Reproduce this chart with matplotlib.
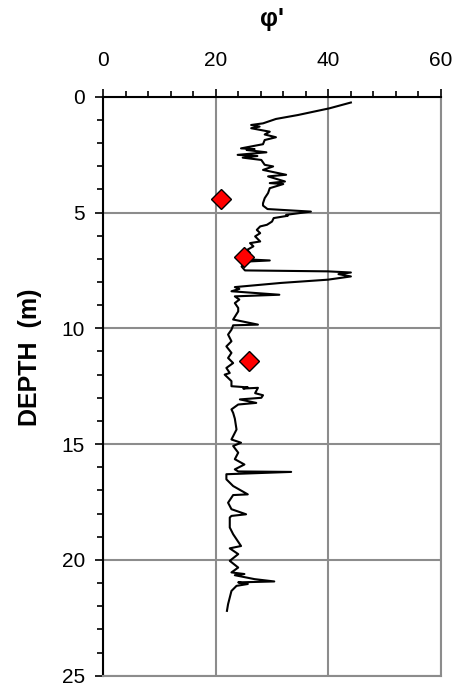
import matplotlib
matplotlib.use("Agg")
import matplotlib.pyplot as plt
from matplotlib.ticker import MultipleLocator

plt.rcParams['font.family'] = ['Liberation Sans', 'DejaVu Sans']

# CPT-derived friction angle profile (phi', degrees) vs depth (m)
phi_curve = [44.0, 40.2, 34.6, 30.7, 28.4, 26.3, 27.8, 26.3, 29.6, 28.7, 30.7, 28.7, 28.4,
             24.5, 26.9, 25.5, 29.0, 23.9, 27.4, 24.8, 28.1, 28.7, 30.2, 28.4, 32.5, 29.3,
             32.3, 29.6, 32.0, 29.6, 29.3, 28.7, 28.4, 28.4, 29.2, 36.9, 32.5, 32.8, 30.3,
             30.0, 29.1, 27.9, 27.3, 27.9, 27.0, 27.9, 26.1, 26.7, 25.6, 26.1, 25.3, 29.6,
             25.3, 24.6, 25.2, 39.9, 44.0, 41.8, 44.0, 39.9, 31.6, 23.4, 24.2, 22.8, 31.3,
             23.4, 24.2, 23.4, 24.0, 24.0, 23.1, 27.5, 23.1, 22.8, 22.2, 22.8, 21.9, 22.8,
             22.2, 23.1, 21.9, 22.5, 21.6, 22.8, 22.8, 25.7, 24.9, 27.5, 27.0, 28.4, 28.1,
             24.3, 27.2, 24.0, 22.8, 23.1, 23.4, 23.7, 22.8, 24.5, 23.1, 24.0, 23.4, 25.1,
             23.4, 24.0, 33.4, 21.9, 21.9, 23.1, 25.7, 23.1, 22.2, 22.8, 25.4, 22.8, 22.5,
             22.5, 23.1, 24.5, 22.5, 24.0, 22.5, 24.0, 22.8, 25.1, 23.4, 26.9, 30.4, 24.0,
             25.7, 23.7, 22.8, 22.5, 22.2, 22.0]
depth_curve = [0.25, 0.50, 0.79, 0.96, 1.15, 1.22, 1.29, 1.36, 1.51, 1.63, 1.75, 1.87, 2.05,
               2.23, 2.26, 2.30, 2.40, 2.51, 2.56, 2.63, 2.73, 2.94, 3.01, 3.16, 3.37, 3.44,
               3.66, 3.73, 3.77, 3.95, 4.16, 4.38, 4.60, 4.70, 4.85, 4.96, 5.10, 5.14, 5.24,
               5.39, 5.53, 5.60, 5.75, 5.89, 6.03, 6.25, 6.32, 6.46, 6.61, 6.75, 7.02, 7.07,
               7.12, 7.33, 7.50, 7.54, 7.59, 7.66, 7.76, 7.90, 8.04, 8.22, 8.30, 8.40, 8.55,
               8.62, 8.76, 8.91, 9.12, 9.27, 9.62, 9.84, 9.87, 10.06, 10.27, 10.56, 10.78, 11.06,
               11.28, 11.50, 11.71, 11.93, 12.00, 12.28, 12.50, 12.55, 12.60, 12.57, 12.80, 12.89, 13.00,
               13.07, 13.22, 13.29, 13.50, 13.65, 13.90, 14.37, 14.80, 14.94, 15.08, 15.37, 15.65, 15.88,
               16.09, 16.18, 16.20, 16.30, 16.52, 16.81, 17.17, 17.20, 17.53, 17.81, 18.03, 18.10, 18.17,
               18.60, 18.89, 19.40, 19.50, 19.75, 20.04, 20.33, 20.54, 20.61, 20.66, 20.83, 20.93, 20.97,
               21.04, 21.12, 21.34, 21.62, 21.91, 22.20]

# lab test points
phi_lab = [21.0, 25.1, 26.0]
depth_lab = [4.4, 6.9, 11.4]

x_ticks = [0, 20, 40, 60]
y_ticks = [0, 5, 10, 15, 20, 25]

fig = plt.figure(figsize=(4.54, 6.86), dpi=100)
ax = fig.add_axes([0.2269, 0.0150, 0.7445, 0.8440])

grid_c = '#8c8c8c'
ax.plot(phi_curve, depth_curve, color='black', lw=1.5, zorder=3)
ax.plot(phi_lab, depth_lab, linestyle='none', marker='D', markersize=10,
        markerfacecolor='#ff0000', markeredgecolor='black', markeredgewidth=1.0, zorder=4)

ax.set_xlim(0, 60)
ax.set_ylim(25, 0)
ax.xaxis.tick_top()
ax.xaxis.set_label_position('top')
ax.set_xticks(x_ticks)
ax.set_yticks(y_ticks)
ax.xaxis.set_minor_locator(MultipleLocator(4))
ax.yaxis.set_minor_locator(MultipleLocator(1))
ax.tick_params(axis='both', which='major', direction='out', length=6, width=1.2,
               labelsize=15, pad=7)
ax.tick_params(axis='both', which='minor', direction='out', length=4, width=1.2)
ax.tick_params(axis='x', which='major', pad=13)

ax.grid(True, which='major', color=grid_c, lw=1.5)
ax.set_axisbelow(True)
for s in ['left', 'top']:
    ax.spines[s].set_color('black')
    ax.spines[s].set_linewidth(1.5)
for s in ['right', 'bottom']:
    ax.spines[s].set_color(grid_c)
    ax.spines[s].set_linewidth(1.5)

ax.set_xlabel("φ'", fontsize=18, fontweight='bold', labelpad=18)
fig.text(30 / 454, 1 - 357 / 686, "DEPTH  (m)", rotation=90, fontsize=18,
         fontweight='bold', ha='center', va='center')

fig.savefig('out.png', dpi=100)
